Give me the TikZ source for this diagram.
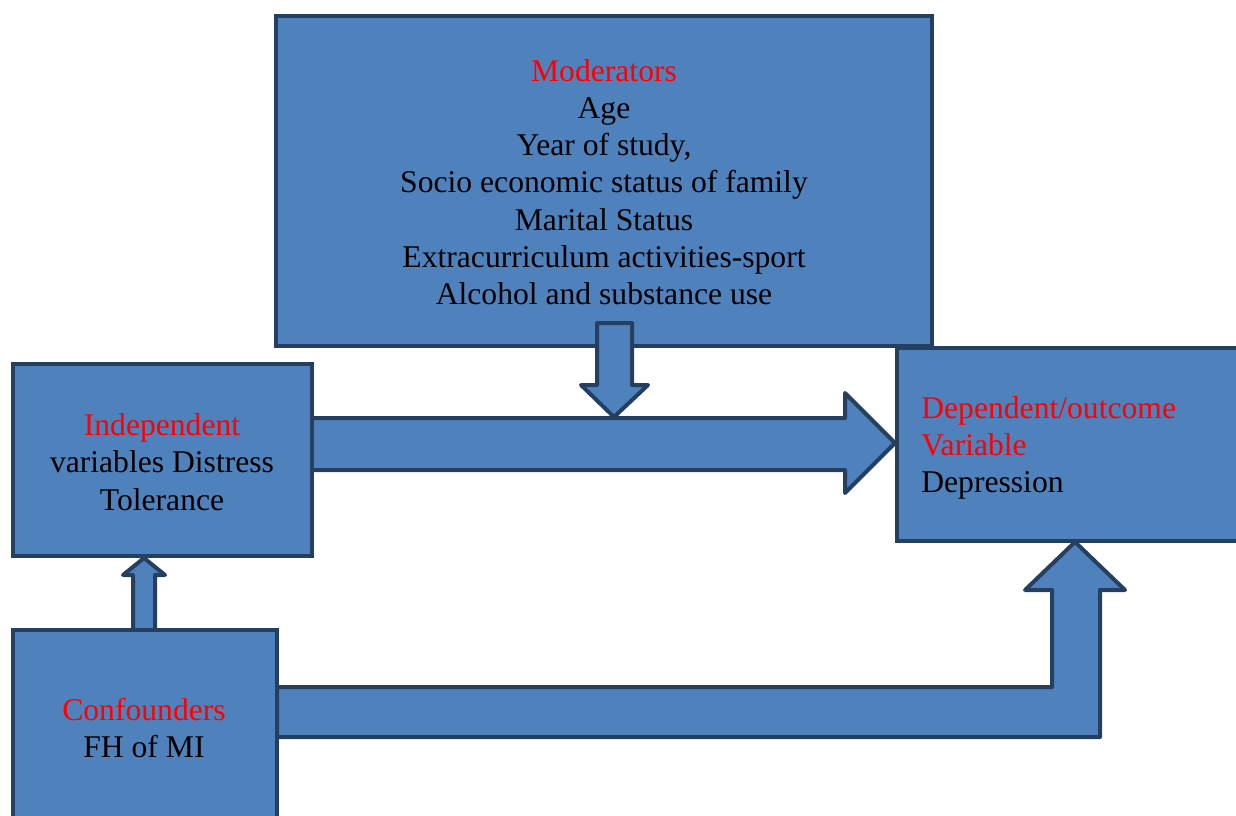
\documentclass[tikz,border=0pt]{standalone}
\usepackage{fontspec}
\setmainfont{Liberation Serif}
\definecolor{fillb}{HTML}{4F81BD}
\definecolor{edge}{HTML}{243F60}
\definecolor{redt}{HTML}{FF0000}
\begin{document}
\begin{tikzpicture}[x=0.02cm,y=-0.02cm,
  box/.style={draw=edge,fill=fillb,line width=0.08cm,inner sep=0,outer sep=0,anchor=north west},
  blk/.style={draw=edge,fill=fillb,line width=0.08cm,line join=round},
  lbl/.style={font=\fontsize{18}{21.2}\selectfont,align=center,inner sep=0,text=black},
  hd/.style={text=redt}]
\useasboundingbox (0,0) rectangle (1236,815);
\clip (0,0) rectangle (1236,815);
% moderators box
\node[box,minimum width=13.12cm,minimum height=6.6cm] (mod) at (276,16) {};
% down arrow from moderators
\draw[blk] (597,323) -- (632,323) -- (632,385) -- (648,385) -- (614,417) -- (581,385) -- (597,385) -- cycle;
% main arrow independent -> dependent
\draw[blk] (310,418) -- (845,418) -- (845,393) -- (895,443) -- (845,493) -- (845,470) -- (310,470) -- cycle;
% small up arrow confounders -> independent
\draw[blk] (133,630) -- (133,575) -- (123,575) -- (144,558) -- (165,575) -- (155,575) -- (155,630) -- cycle;
% bent arrow confounders -> dependent
\draw[blk] (277,687) -- (1052,687) -- (1052,590) -- (1025,590) -- (1075,542) -- (1125,590) -- (1100,590) -- (1100,737) -- (277,737) -- cycle;
% other boxes
\node[box,minimum width=5.98cm,minimum height=3.84cm] (ind) at (13,364) {};
\node[box,minimum width=5.28cm,minimum height=4.2cm] (conf) at (13,630) {};
\node[box,minimum width=7.26cm,minimum height=3.86cm] (dep) at (897,348) {};
% texts
\node[lbl] (modt) at (604,182) {{\color{redt}Moderators}\\Age\\Year of study,\\Socio economic status of family\\Marital Status\\Extracurriculum activities-sport\\Alcohol and substance use};
\node[lbl] (indt) at (162,462) {{\color{redt}Independent}\\variables Distress\\Tolerance};
\node[lbl] (conft) at (144,728) {{\color{redt}Confounders}\\FH of MI};
\node[lbl,align=left,anchor=west] (dept) at (921,448) {{\color{redt}Dependent/outcome}\\{\color{redt}Variable}\\Depression};
\end{tikzpicture}
\end{document}
